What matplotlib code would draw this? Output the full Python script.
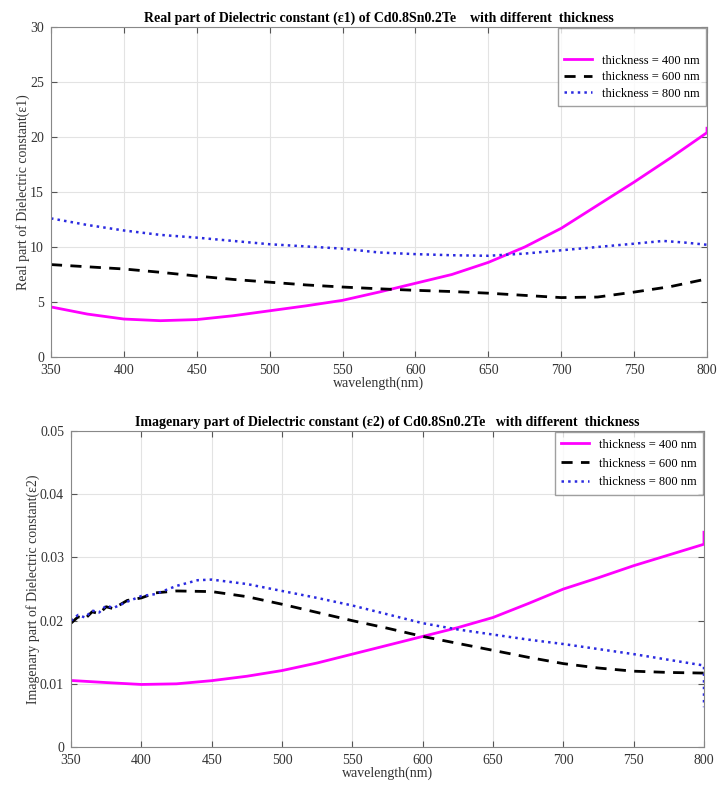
import matplotlib
matplotlib.use("Agg")
import matplotlib.pyplot as plt

plt.rcParams['font.family'] = ['Liberation Serif', 'DejaVu Serif']

# ---- data: real part (eps1) ----
wl_r400 = [350, 375, 400, 425, 450, 475, 500, 525, 550, 575, 600, 625, 650, 675, 700, 725, 750, 775, 800, 800]
e1_400 = [4.55, 3.9, 3.45, 3.3, 3.4, 3.75, 4.2, 4.65, 5.15, 5.9, 6.7, 7.5, 8.6, 10.0, 11.7, 13.8, 15.9, 18.1, 20.4, 20.8]
wl_r600 = [350, 375, 400, 425, 450, 475, 500, 525, 550, 575, 600, 625, 650, 675, 700, 725, 750, 775, 800]
e1_600 = [8.4, 8.2, 8.0, 7.7, 7.36, 7.05, 6.8, 6.55, 6.36, 6.2, 6.06, 5.95, 5.8, 5.6, 5.4, 5.45, 5.9, 6.4, 7.1]
wl_r800 = [350, 375, 400, 425, 450, 475, 500, 525, 550, 575, 600, 625, 650, 675, 700, 725, 750, 770, 785, 800]
e1_800 = [12.6, 12.0, 11.5, 11.1, 10.85, 10.55, 10.25, 10.05, 9.85, 9.5, 9.35, 9.25, 9.2, 9.4, 9.7, 10.0, 10.3, 10.55, 10.4, 10.2]

# ---- data: imaginary part (eps2) ----
wl_i400 = [350, 375, 400, 425, 450, 475, 500, 525, 550, 575, 600, 625, 650, 675, 700, 725, 750, 775, 800, 800]
e2_400 = [0.01053, 0.0102, 0.0099, 0.0100, 0.0105, 0.0112, 0.0121, 0.0133, 0.0147, 0.0161, 0.0175, 0.0189,
          0.0205, 0.0227, 0.0250, 0.0268, 0.0287, 0.0304, 0.0321, 0.0340]
wl_i600 = [350, 355, 360, 365, 370, 375, 380, 390, 400, 410, 425, 450, 475, 500, 525, 550, 575, 600, 625, 650,
           675, 700, 725, 750, 775, 800, 800]
e2_600 = [0.0196, 0.0206, 0.0203, 0.0214, 0.0211, 0.0222, 0.0219, 0.0232, 0.0236, 0.0244, 0.0247, 0.0246,
          0.0238, 0.0226, 0.0213, 0.0200, 0.0188, 0.0175, 0.0164, 0.0153, 0.0142, 0.0132, 0.0125, 0.0120,
          0.0118, 0.0117, 0.0108]
wl_i800 = [350, 355, 360, 365, 370, 375, 380, 390, 400, 410, 425, 440, 450, 475, 500, 525, 550, 575, 600, 625,
           650, 675, 700, 725, 750, 775, 800, 800]
e2_800 = [0.0200, 0.0209, 0.0205, 0.0216, 0.0213, 0.0224, 0.0220, 0.0230, 0.0239, 0.0242, 0.0255, 0.0264,
          0.0265, 0.0258, 0.0247, 0.0236, 0.0224, 0.0210, 0.0196, 0.0186, 0.0178, 0.0170, 0.0163, 0.0155,
          0.0147, 0.0138, 0.0129, 0.0063]

labels = ['thickness = 400 nm', 'thickness = 600 nm', 'thickness = 800 nm']
xticks = [350, 400, 450, 500, 550, 600, 650, 700, 750, 800]

fig = plt.figure(figsize=(7.21, 7.94), dpi=100)
ax1 = fig.add_axes([0.0707, 0.5504, 0.9099, 0.4156])
ax2 = fig.add_axes([0.0985, 0.0592, 0.8779, 0.3978])

magenta = '#ff00ff'
blue = '#2a2ae0'

def style(ax):
    ax.set_xlim(350, 800)
    ax.set_xticks(xticks)
    ax.grid(True, color='#e3e3e3', linewidth=0.8)
    ax.set_axisbelow(True)
    ax.tick_params(direction='in', length=4, labelsize=10, color='#555555', labelcolor='#333333',
                   top=True, right=True)
    ax.tick_params(axis='x', pad=5)
    ax.tick_params(axis='y', pad=5)
    for s in ax.spines.values():
        s.set_color('#888888')
        s.set_linewidth(0.8)

ax1.plot(wl_r400, e1_400, color=magenta, lw=2, label=labels[0])
ax1.plot(wl_r600, e1_600, color='black', lw=2, ls=(0, (4, 3)), label=labels[1])
ax1.plot(wl_r800, e1_800, color=blue, lw=1.8, ls=':', label=labels[2])
style(ax1)
ax1.set_ylim(0, 30)
ax1.set_yticks([0, 5, 10, 15, 20, 25, 30])
ax1.set_title('Real part of Dielectric constant (ε1) of Cd0.8Sn0.2Te    with different  thickness',
              fontsize=10, fontweight='bold', pad=4)
ax1.set_xlabel('wavelength(nm)', fontsize=10, color='#333333', labelpad=0)
ax1.set_ylabel('Real part of Dielectric constant(ε1)', fontsize=10, color='#333333', labelpad=0)
ax1.legend(loc='upper right', fontsize=9, frameon=True, fancybox=False, edgecolor='#888888',
           borderpad=0.5, labelspacing=0.35, handlelength=2.2, borderaxespad=0.1,
           title=' ', title_fontsize=12)

ax2.plot(wl_i400, e2_400, color=magenta, lw=2, label=labels[0])
ax2.plot(wl_i600, e2_600, color='black', lw=2, ls=(0, (4, 3)), label=labels[1])
ax2.plot(wl_i800, e2_800, color=blue, lw=1.8, ls=':', label=labels[2])
style(ax2)
ax2.set_ylim(0, 0.05)
ax2.set_yticks([0, 0.01, 0.02, 0.03, 0.04, 0.05])
ax2.set_yticklabels(['0', '0.01', '0.02', '0.03', '0.04', '0.05'])
ax2.set_title('Imagenary part of Dielectric constant (ε2) of Cd0.8Sn0.2Te   with different  thickness',
              fontsize=10, fontweight='bold', pad=4)
ax2.set_xlabel('wavelength(nm)', fontsize=10, color='#333333', labelpad=0)
ax2.set_ylabel('Imagenary part of Dielectric constant(ε2)', fontsize=10, color='#333333', labelpad=0)
ax2.legend(loc='upper right', fontsize=9, frameon=True, fancybox=False, edgecolor='#888888',
           borderpad=0.5, labelspacing=0.55, handlelength=2.2, borderaxespad=0.1)

fig.savefig('out.png', dpi=100, facecolor='white')
